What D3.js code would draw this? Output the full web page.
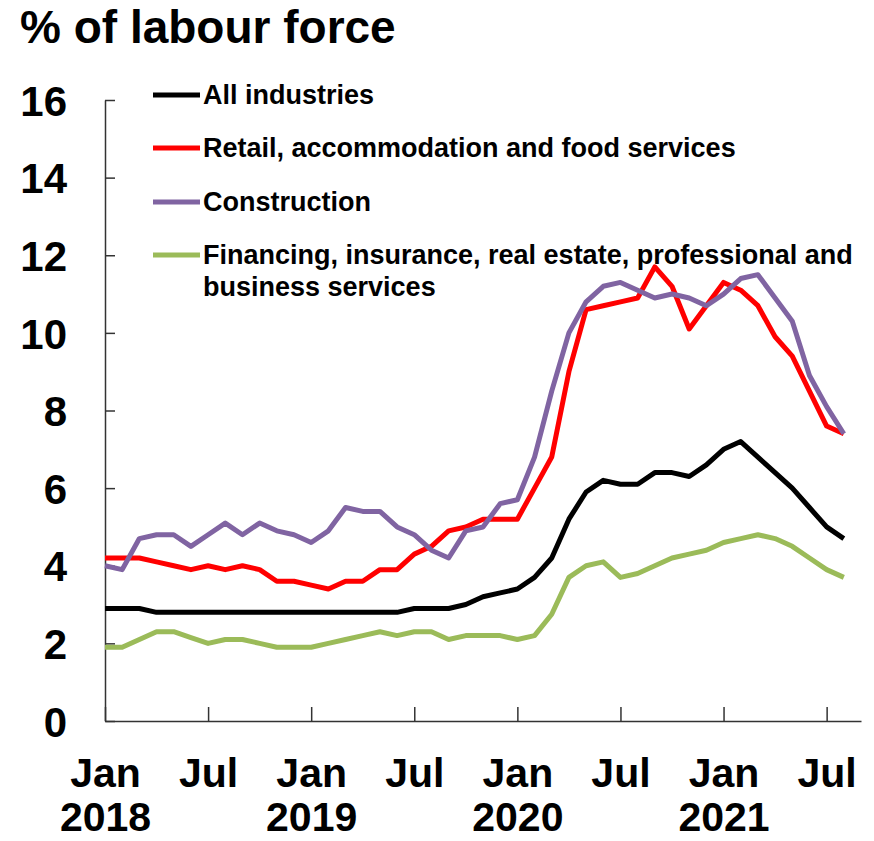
<!DOCTYPE html>
<html>
<head>
<meta charset="utf-8">
<script src="https://cdn.jsdelivr.net/npm/d3@7"></script>
<style>
  html, body { margin: 0; padding: 0; background: #fff; }
  svg { display: block; font-family: "Liberation Sans", Arial, sans-serif; font-weight: bold; }
</style>
</head>
<body>
<svg id="chart" width="874" height="841"></svg>
<script>
// ---- data ----
const months = [
  "Jan-18","Feb-18","Mar-18","Apr-18","May-18","Jun-18","Jul-18","Aug-18","Sep-18","Oct-18","Nov-18","Dec-18",
  "Jan-19","Feb-19","Mar-19","Apr-19","May-19","Jun-19","Jul-19","Aug-19","Sep-19","Oct-19","Nov-19","Dec-19",
  "Jan-20","Feb-20","Mar-20","Apr-20","May-20","Jun-20","Jul-20","Aug-20","Sep-20","Oct-20","Nov-20","Dec-20",
  "Jan-21","Feb-21","Mar-21","Apr-21","May-21","Jun-21","Jul-21","Aug-21"
];
const allIndustries = [2.9,2.9,2.9,2.8,2.8,2.8,2.8,2.8,2.8,2.8,2.8,2.8,2.8,2.8,2.8,2.8,2.8,2.8,2.9,2.9,2.9,3.0,3.2,3.3,
  3.4,3.7,4.2,5.2,5.9,6.2,6.1,6.1,6.4,6.4,6.3,6.6,7.0,7.2,6.8,6.4,6.0,5.5,5.0,4.7];
const retail = [4.2,4.2,4.2,4.1,4.0,3.9,4.0,3.9,4.0,3.9,3.6,3.6,3.5,3.4,3.6,3.6,3.9,3.9,4.3,4.5,4.9,5.0,5.2,5.2,
  5.2,6.0,6.8,9.0,10.6,10.7,10.8,10.9,11.7,11.2,10.1,10.7,11.3,11.1,10.7,9.9,9.4,8.5,7.6,7.4];
const construction = [4.0,3.9,4.7,4.8,4.8,4.5,4.8,5.1,4.8,5.1,4.9,4.8,4.6,4.9,5.5,5.4,5.4,5.0,4.8,4.4,4.2,4.9,5.0,5.6,
  5.7,6.8,8.5,10.0,10.8,11.2,11.3,11.1,10.9,11.0,10.9,10.7,11.0,11.4,11.5,10.9,10.3,8.9,8.1,7.4];
const financing = [1.9,1.9,2.1,2.3,2.3,2.15,2.0,2.1,2.1,2.0,1.9,1.9,1.9,2.0,2.1,2.2,2.3,2.2,2.3,2.3,2.1,2.2,2.2,2.2,
  2.1,2.2,2.75,3.7,4.0,4.1,3.7,3.8,4.0,4.2,4.3,4.4,4.6,4.7,4.8,4.7,4.5,4.2,3.9,3.7];

const seriesNames = ["All industries", "Retail, accommodation and food services", "Construction",
  ["Financing, insurance, real estate, professional and", "business services"]];
const seriesColors = ["#000000", "#ff0000", "#8064a2", "#9bbb59"];
const seriesValues = [allIndustries, retail, construction, financing];

const yTicks = [0, 2, 4, 6, 8, 10, 12, 14, 16];
const xTickIdx = [0, 6, 12, 18, 24, 30, 36, 42];
const xTickMonth = ["Jan", "Jul", "Jan", "Jul", "Jan", "Jul", "Jan", "Jul"];
const xTickYear = ["2018", "", "2019", "", "2020", "", "2021", ""];
const title = "% of labour force";

// ---- layout ----
const svg = d3.select("#chart");
const x = d3.scaleLinear().domain([0, 44]).range([105, 861]);
const y = d3.scaleLinear().domain([0, 16]).range([721, 100]);

svg.append("text").attr("x", 20).attr("y", 43).attr("font-size", 46).attr("fill", "#000").text(title);

// y axis
const yAxis = d3.axisLeft(y).tickValues(yTicks).tickFormat(d3.format("d"))
  .tickSizeInner(-10).tickSizeOuter(0).tickPadding(38);
const gy = svg.append("g").attr("transform", `translate(${x(0)},0)`).call(yAxis);
gy.select(".domain").attr("stroke", "#333").attr("stroke-width", 1.5);
gy.selectAll(".tick line").attr("stroke", "#333").attr("stroke-width", 1.5);
gy.selectAll(".tick text").attr("font-size", 42).attr("font-family", "Liberation Sans, Arial, sans-serif")
  .attr("font-weight", "bold").attr("fill", "#000").attr("dy", "0.36em");

// x axis
const xAxis = d3.axisBottom(x).tickValues(xTickIdx).tickFormat((d, i) => xTickMonth[i])
  .tickSizeInner(-14).tickSizeOuter(0).tickPadding(0);
const gx = svg.append("g").attr("transform", `translate(0,${y(0)})`).call(xAxis);
gx.select(".domain").attr("stroke", "#333").attr("stroke-width", 1.5);
gx.selectAll(".tick line").attr("stroke", "#333").attr("stroke-width", 1.5);
gx.selectAll(".tick text").attr("font-size", 41).attr("font-family", "Liberation Sans, Arial, sans-serif")
  .attr("font-weight", "bold").attr("fill", "#000").attr("y", 66).attr("dy", 0)
  .each(function(d, i) {
    if (xTickYear[i]) {
      d3.select(this).append("tspan").attr("x", 0).attr("y", 110).text(xTickYear[i]);
    }
  });

// lines
const line = d3.line().x((d, i) => x(i)).y(d => y(d));
seriesValues.forEach((vals, k) => {
  svg.append("path").datum(vals).attr("d", line).attr("fill", "none")
    .attr("stroke", seriesColors[k]).attr("stroke-width", 5).attr("stroke-linejoin", "round");
});

// legend
const legendY = [95, 148, 202, 255];
seriesNames.forEach((name, k) => {
  const g = svg.append("g").attr("transform", `translate(0,${legendY[k]})`);
  g.append("line").attr("x1", 153).attr("x2", 200).attr("y1", 0).attr("y2", 0)
    .attr("stroke", seriesColors[k]).attr("stroke-width", 5);
  const lines = Array.isArray(name) ? name : [name];
  lines.forEach((t, j) => {
    g.append("text").attr("x", 203).attr("y", j * 32).attr("dy", "0.35em")
      .attr("font-size", 27).attr("fill", "#000").text(t);
  });
});
</script>
</body>
</html>
